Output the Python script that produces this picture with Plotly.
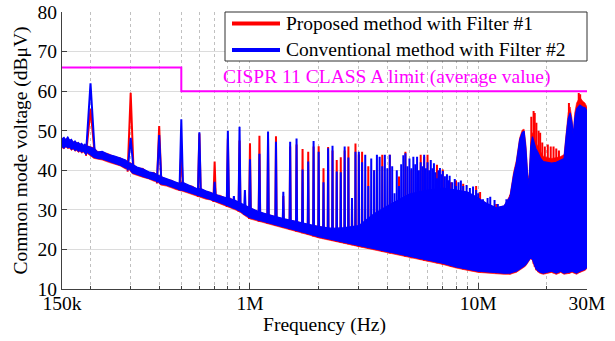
import numpy as np
import plotly.graph_objects as go

# ------------------------------------------------------------------ data
# floor / dense-mass band (Hz, dBuV)
band_f = [150e3, 153e3, 156e3, 159e3, 162e3, 165e3, 168e3, 171e3, 174e3, 177e3,
          180e3, 183e3, 186e3, 189e3, 192e3, 196e3,
          207e3, 215e3, 225e3, 240e3, 255e3, 270e3, 285e3, 295e3,
          305e3, 320e3, 340e3, 360e3, 380e3, 395e3,
          405e3, 430e3, 455e3, 475e3, 495e3,
          505e3, 530e3, 560e3, 595e3,
          605e3, 640e3, 670e3, 700e3,
          740e3, 780e3, 820e3, 860e3, 900e3, 950e3, 1.0e6,
          1.1e6, 1.2e6, 1.4e6, 1.6e6, 1.8e6, 2.0e6, 2.3e6, 2.6e6, 3.0e6, 3.5e6,
          4.0e6, 4.5e6, 5.0e6, 6.0e6, 7.0e6, 8.0e6, 9.0e6, 10e6, 11e6, 12e6,
          13e6, 13.8e6,
          14.3e6, 14.7e6, 15.2e6, 15.6e6, 15.9e6, 16.2e6, 16.5e6, 16.7e6, 17.0e6, 17.3e6,
          17.6e6, 17.9e6, 18.3e6, 18.8e6, 19.3e6, 20.0e6, 21.0e6, 22.0e6, 23.0e6, 23.8e6,
          24.3e6, 24.8e6, 25.3e6, 25.8e6, 26.1e6, 26.5e6, 27.0e6, 27.9e6, 28.7e6, 29.4e6,
          30.0e6]
blue_low = [46.0, 45.6, 46.2, 45.7, 45.9, 45.3, 45.6, 45.0, 45.3, 44.8,
            45.0, 44.6, 44.9, 44.4, 44.7, 44.3,
            43.3, 43.0, 42.9, 42.3, 41.8, 41.3, 40.6, 40.5,
            39.4, 39.0, 38.5, 38.0, 37.5, 37.2,
            36.6, 36.3, 35.8, 35.4, 35.0,
            35.0, 34.6, 34.2, 33.6,
            33.5, 33.0, 32.7, 32.3,
            31.8, 31.3, 30.7, 30.3, 29.8, 28.8, 28.0,
            27.3, 26.8, 25.8, 24.8, 24.0, 23.2, 22.4, 21.8, 21.0, 20.2,
            19.4, 18.9, 18.2, 17.3, 16.5, 15.6, 15.0, 14.5, 14.3, 14.2,
            14.0, 14.0,
            14.3, 14.5, 15.0, 15.5, 15.8, 16.2, 16.8, 17.2, 18.0, 17.5,
            16.3, 15.2, 14.6, 14.2, 14.0, 14.3, 14.5, 14.0, 14.5, 14.0,
            14.0, 14.2, 14.3, 14.5, 14.4, 14.2, 14.0, 14.5, 14.8, 15.0,
            15.5]
blue_high = [47.9, 48.3, 47.6, 48.5, 47.5, 47.8, 47.0, 47.4, 46.8, 47.0,
             46.5, 46.8, 46.2, 46.6, 46.1, 46.0,
             45.5, 44.6, 44.8, 44.0, 43.6, 43.0, 42.6, 41.8,
             41.5, 40.8, 40.3, 39.6, 39.3, 38.8,
             38.4, 37.9, 37.3, 37.0, 36.6,
             37.0, 36.4, 35.8, 35.2,
             35.4, 34.8, 34.3, 34.0,
             33.5, 33.2, 32.8, 32.4, 31.8, 31.0, 30.5,
             29.5, 28.8, 27.8, 27.0, 26.3, 25.8, 25.3, 25.5, 26.0, 29.0,
             31.0, 32.5, 34.0, 35.0, 35.5, 35.0, 34.5, 33.0, 31.5, 30.5,
             31.0, 33.3,
             38.8, 41.8, 47.7, 49.5, 49.9, 45.3, 38.0, 36.5, 46.0, 48.5,
             47.0, 45.5, 44.5, 43.0, 42.2, 42.0, 41.8, 42.0, 42.5, 43.0,
             48.5, 53.0, 54.5, 52.0, 48.5, 53.0, 55.5, 56.5, 56.0, 55.8,
             55.0]
red_low = [45.7, 45.4, 45.9, 45.5, 45.6, 45.0, 45.4, 44.8, 45.0, 44.5,
           44.8, 44.3, 44.6, 44.2, 44.4, 44.0,
           43.0, 42.8, 42.6, 42.0, 41.5, 41.1, 40.3, 40.2,
           39.1, 38.8, 38.2, 37.8, 37.2, 37.0,
           36.3, 36.0, 35.5, 35.1, 34.8,
           34.7, 34.3, 34.0, 33.3,
           33.2, 32.7, 32.5, 32.0,
           31.5, 31.0, 30.4, 30.0, 29.5, 28.5, 27.7,
           27.0, 26.5, 25.5, 24.5, 23.7, 22.9, 22.1, 21.5, 20.7, 19.9,
           19.1, 18.6, 17.9, 17.0, 16.2, 15.3, 14.7, 14.2, 14.0, 13.9,
           13.7, 13.7,
           14.0, 14.2, 14.7, 15.2, 15.5, 15.9, 16.5, 16.9, 17.7, 17.2,
           16.0, 14.9, 14.3, 13.9, 13.7, 14.0, 14.2, 13.7, 14.2, 13.7,
           13.7, 13.9, 14.0, 14.2, 14.1, 13.9, 13.7, 14.2, 14.5, 14.7,
           15.2]
red_high = [48.1, 48.0, 47.9, 48.2, 47.7, 47.6, 47.2, 47.2, 47.0, 46.8,
            46.7, 46.6, 46.4, 46.4, 46.3, 46.2,
            45.7, 44.8, 44.6, 44.2, 43.4, 43.2, 42.4, 42.0,
            41.7, 40.6, 40.5, 39.4, 39.5, 38.6,
            38.6, 37.7, 37.5, 36.8, 36.8,
            37.2, 36.2, 36.0, 35.0,
            35.6, 34.6, 34.5, 33.8,
            33.7, 33.0, 33.0, 32.2, 32.0, 30.8, 30.6,
            29.3, 28.9, 27.6, 27.1, 26.1, 25.9, 25.1, 25.3, 25.8, 28.5,
            30.5, 32.0, 33.5, 34.5, 35.0, 34.8, 34.3, 33.0, 31.5, 30.5,
            31.0, 33.8,
            39.5, 42.5, 48.2, 50.2, 50.4, 46.5, 39.0, 38.0, 47.0, 49.5,
            48.5, 47.0, 46.0, 44.5, 43.5, 43.2, 43.0, 43.2, 43.5, 44.0,
            49.0, 54.5, 56.0, 53.0, 49.0, 54.5, 57.0, 58.5, 57.5, 57.0,
            56.0]

# harmonic spikes (Hz, peak dBuV)
blue_spike_f = [200e3, 300e3, 400e3, 500e3, 600e3, 700e3, 800e3, 850e3, 900e3, 950e3,
                1.0e6, 1.1e6, 1.2e6, 1.3e6, 1.4e6, 1.5e6, 1.6e6, 1.7e6, 1.8e6, 1.9e6,
                2.0e6, 2.1e6, 2.2e6, 2.3e6, 2.4e6, 2.5e6, 2.6e6, 2.7e6, 2.8e6, 2.9e6,
                3.0e6, 3.1e6, 3.2e6, 3.3e6, 3.4e6, 3.5e6, 3.6e6, 3.7e6, 3.8e6, 3.9e6,
                4.0e6, 4.1e6, 4.2e6, 4.3e6, 4.4e6, 4.5e6, 4.6e6, 4.7e6, 4.8e6, 4.9e6,
                5.0e6, 5.1e6, 5.2e6, 5.3e6, 5.4e6, 5.5e6, 5.6e6, 5.7e6, 5.8e6, 5.9e6,
                6.0e6, 6.1e6, 6.2e6, 6.3e6, 6.4e6, 6.5e6, 6.6e6, 6.7e6, 6.8e6, 6.9e6,
                7.0e6, 7.15e6, 7.3e6, 7.4e6, 7.5e6, 7.7e6, 7.9e6, 8.0e6, 8.2e6, 8.4e6,
                8.6e6, 8.9e6, 9.2e6, 9.5e6, 9.8e6, 10.0e6, 10.5e6, 11.0e6, 11.3e6, 11.8e6,
                12.2e6, 12.5e6, 13.1e6, 13.3e6]
blue_spike_v = [62.0, 48.2, 48.9, 52.9, 49.6, 37.1, 50.0, 33.5, 51.0, 35.0,
                42.8, 44.2, 49.8, 47.2, 34.6, 47.2, 48.0, 40.2, 42.2, 47.4,
                44.7, 37.0, 45.6, 46.2, 39.7, 39.5, 46.0, 43.2, 33.0, 44.7,
                44.7, 42.0, 43.9, 36.0, 43.0, 40.0, 43.9, 43.4, 41.0, 43.9,
                40.5, 43.9, 41.0, 34.2, 40.0, 36.0, 41.5, 43.8, 44.3, 41.0,
                43.0, 40.5, 43.4, 41.5, 43.4, 40.0, 42.0, 41.0, 43.9, 40.5,
                42.0, 40.0, 42.6, 40.5, 41.8, 39.5, 38.0, 40.0, 40.6, 39.0,
                39.8, 38.5, 39.0, 37.5, 38.6, 37.0, 37.8, 36.0, 37.0, 37.4,
                36.0, 36.3, 35.5, 35.9, 35.0, 34.2, 32.7, 33.0, 33.3, 32.5,
                31.5, 30.8, 30.8, 32.7]
red_spike_f = [200e3, 300e3, 400e3, 500e3, 600e3, 700e3, 800e3, 900e3, 1.0e6, 1.1e6,
               1.2e6, 1.3e6, 1.4e6, 1.5e6, 1.6e6, 1.7e6, 1.8e6, 1.9e6, 2.0e6, 2.1e6,
               2.2e6, 2.3e6, 2.4e6, 2.5e6, 2.6e6, 2.7e6, 2.8e6, 2.9e6, 3.0e6, 3.1e6,
               3.3e6, 3.5e6, 3.8e6, 4.1e6, 4.5e6, 4.8e6, 5.1e6, 5.6e6, 5.8e6, 6.0e6,
               6.6e6, 7.0e6, 7.6e6, 8.0e6, 8.6e6, 9.8e6, 10.2e6, 12.0e6, 13.8e6,
               17.1e6, 17.5e6, 17.7e6, 18.0e6, 18.4e6, 18.7e6, 19.1e6, 19.6e6, 20.2e6, 20.8e6,
               21.4e6, 22.0e6, 22.6e6, 25.0e6, 27.6e6, 28.0e6]
red_spike_v = [55.5, 59.6, 51.2, 45.0, 49.3, 42.2, 48.0, 47.5, 46.8, 48.7,
               48.0, 48.6, 33.5, 46.0, 46.5, 45.4, 44.7, 46.0, 46.1, 40.5,
               45.9, 45.0, 42.6, 43.3, 45.0, 46.0, 32.0, 46.8, 44.0, 44.7,
               41.0, 40.0, 43.9, 43.9, 38.4, 44.7, 40.0, 43.9, 43.4, 43.9,
               41.4, 40.2, 37.0, 37.4, 36.6, 36.0, 34.5, 31.5, 33.8,
               53.5, 55.0, 54.5, 52.0, 50.0, 49.5, 47.0, 46.0, 46.5, 46.0,
               46.0, 45.5, 45.0, 57.0, 59.5, 59.2]

# CISPR 11 class A limit (average)
limit_f = [150e3, 500e3, 500e3, 30e6]
limit_v = [66, 66, 60, 60]

x_tick_vals = [150e3, 1e6, 10e6, 30e6]
x_tick_text = ["150k", "1M", "10M", "30M"]
x_minor_vals = [2e5, 3e5, 4e5, 5e5, 6e5, 7e5, 8e5, 9e5, 1e6,
                2e6, 3e6, 4e6, 5e6, 6e6, 7e6, 8e6, 9e6, 1e7, 2e7]
series_names = ["Proposed method with Filter #1", "Conventional method with Filter #2"]
limit_text = "CISPR 11 CLASS A limit (average value)"

# ------------------------------------------------------------------ style
RED = "#ff0000"
BLUE = "#0000ff"
MAG = "#ff00ff"
FONT = "Liberation Serif, Times New Roman, serif"
FS = 19.5
DW = 9e3  # half base width of a spectral line (Hz)

# plot area in pixels
L, R, T, B = 62, 587, 12, 289


def px(x):
    return (x - L) / (R - L)


def py(y):
    return (B - y) / (B - T)


def band_xy(low, high):
    xs = list(band_f) + list(band_f[::-1])
    ys = list(high) + list(low[::-1])
    return xs, ys


def spike_xy(fs, vs, low):
    lf = np.log10(band_f)
    xs, ys = [], []
    for f, v in zip(fs, vs):
        base = float(np.interp(np.log10(f), lf, low))
        xs += [f - DW, f, f + DW, None]
        ys += [base, v, base, None]
    return xs, ys


fig = go.Figure()

for low, high, sf, sv, col, name, lw in [
    (red_low, red_high, red_spike_f, red_spike_v, RED, series_names[0], 0.6),
    (blue_low, blue_high, blue_spike_f, blue_spike_v, BLUE, series_names[1], 1.2),
]:
    bx, by = band_xy(low, high)
    fig.add_trace(go.Scatter(x=bx, y=by, mode="lines", fill="toself", fillcolor=col,
                             line=dict(color=col, width=lw), name=name,
                             hoverinfo="skip", showlegend=False))
    sx, sy = spike_xy(sf, sv, low)
    fig.add_trace(go.Scatter(x=sx, y=sy, mode="lines", line=dict(color=col, width=2),
                             name=name, showlegend=False, connectgaps=False))

fig.add_trace(go.Scatter(x=limit_f, y=limit_v, mode="lines",
                         line=dict(color=MAG, width=2), showlegend=False))

# manual legend (MATLAB style)
shapes = [
    dict(type="rect", xref="paper", yref="paper", x0=px(225), x1=px(587), y0=py(61), y1=py(12),
         line=dict(color="#303030", width=1), fillcolor="white", layer="above"),
    dict(type="line", xref="paper", yref="paper", x0=px(232), x1=px(280), y0=py(23.5), y1=py(23.5),
         line=dict(color=RED, width=4), layer="above"),
    dict(type="line", xref="paper", yref="paper", x0=px(232), x1=px(280), y0=py(50), y1=py(50),
         line=dict(color=BLUE, width=4), layer="above"),
]
annotations = [
    dict(text=series_names[0], xref="paper", yref="paper", x=px(284), y=py(24),
         xanchor="left", yanchor="middle", showarrow=False, font=dict(size=FS, color="black")),
    dict(text=series_names[1], xref="paper", yref="paper", x=px(284), y=py(50),
         xanchor="left", yanchor="middle", showarrow=False, font=dict(size=FS, color="black")),
    dict(text=limit_text, xref="paper", yref="paper", x=px(387), y=py(77),
         xanchor="center", yanchor="middle", showarrow=False, font=dict(size=FS, color=MAG)),
]

fig.update_layout(
    width=615, height=341,
    margin=dict(l=L, r=615 - R, t=T, b=341 - B, autoexpand=False),
    paper_bgcolor="white", plot_bgcolor="white",
    font=dict(family=FONT, size=FS, color="black"),
    showlegend=False,
    shapes=shapes, annotations=annotations,
    xaxis=dict(
        type="log", range=[np.log10(150e3), np.log10(30e6)],
        tickvals=x_tick_vals, ticktext=x_tick_text, automargin=False,
        ticks="inside", ticklen=6, tickcolor="#404040", ticklabelstandoff=-3,
        showline=True, linecolor="#404040", linewidth=1, mirror=False,
        showgrid=False, zeroline=False,
        minor=dict(tickvals=x_minor_vals, ticks="inside", ticklen=3, tickcolor="#404040",
                   showgrid=True, gridcolor="#c0c0c0", griddash="dot", gridwidth=1),
        title=dict(text="Frequency (Hz)", font=dict(size=FS), standoff=2),
    ),
    yaxis=dict(
        range=[10, 80], tick0=10, dtick=10, automargin=False,
        ticks="inside", ticklen=5, tickcolor="#404040",
        showline=True, linecolor="#404040", linewidth=1, mirror=False,
        showgrid=True, gridcolor="#dcdcdc", gridwidth=1, zeroline=False,
        title=dict(text="Common mode voltage (dBμV)", font=dict(size=FS), standoff=4),
    ),
)

fig.write_html("out.html")
